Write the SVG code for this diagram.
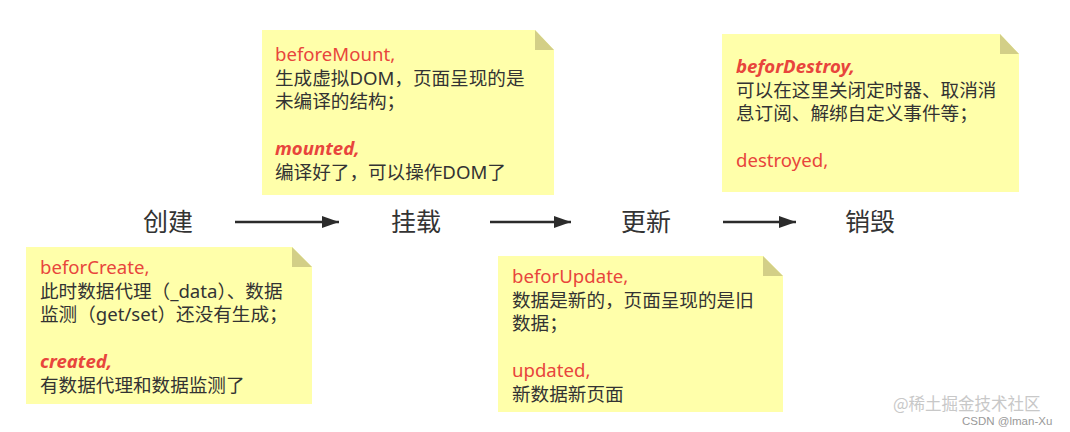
<svg xmlns="http://www.w3.org/2000/svg" width="1070" height="432" viewBox="0 0 1070 432">
<defs>
<marker id="ah" markerWidth="17" markerHeight="12" refX="17" refY="6" orient="auto" markerUnits="userSpaceOnUse">
<path d="M0,0 L17,6 L0,12 Z" fill="#2b2b2b"/>
</marker>
</defs>
<style>
.note{fill:#ffffaa}
.fold{fill:#d3cf87}
.t{font-family:"Noto Sans","Noto Sans CJK SC",sans-serif;font-size:18.6px;fill:#333}
.r{fill:#e8453c}
.bi{font-weight:bold;font-style:italic}
.stage{font-family:"Noto Sans CJK SC",sans-serif;font-size:25px;fill:#333}
.conn{stroke:#2b2b2b;stroke-width:2.4;fill:none}
.wm{font-family:"Noto Sans CJK SC",sans-serif;font-size:16.5px;fill:#c8c8c8}
.wm2{font-family:"Liberation Sans",sans-serif;font-size:11.5px;fill:#999}
</style>
<rect width="1070" height="432" fill="#ffffff"/>
<g id="connectors">
<line class="conn" x1="235" y1="222" x2="339" y2="222" marker-end="url(#ah)"/>
<line class="conn" x1="490" y1="222" x2="571" y2="222" marker-end="url(#ah)"/>
<line class="conn" x1="723" y1="222" x2="796" y2="222" marker-end="url(#ah)"/>
</g>
<g id="stage-create"><text class="stage" x="143" y="231">创建</text></g>
<g id="stage-mount"><text class="stage" x="391" y="231">挂载</text></g>
<g id="stage-update"><text class="stage" x="621" y="231">更新</text></g>
<g id="stage-destroy"><text class="stage" x="845" y="231">销毁</text></g>
<g id="note-create">
<path class="note" d="M26,247 H292 L312,267 V404 H26 Z"/>
<path class="fold" d="M292,247 L312,267 H292 Z"/>
<text class="t" x="40" y="274"><tspan class="r">beforCreate,</tspan><tspan x="40" dy="23.5">此时数据代理（_data）、数据</tspan><tspan x="40" dy="23.5">监测（get/set）还没有生成；</tspan><tspan x="40" dy="47" class="r bi">created,</tspan><tspan x="40" dy="23.5">有数据代理和数据监测了</tspan></text>
</g>
<g id="note-mount">
<path class="note" d="M262,30 H535 L554,50 V195 H262 Z"/>
<path class="fold" d="M535,30 L554,50 H535 Z"/>
<text class="t" x="275" y="61"><tspan class="r">beforeMount,</tspan><tspan x="275" dy="23.5">生成虚拟DOM，页面呈现的是</tspan><tspan x="275" dy="23.5">未编译的结构；</tspan><tspan x="275" dy="47" class="r bi">mounted,</tspan><tspan x="275" dy="23.5">编译好了，可以操作DOM了</tspan></text>
</g>
<g id="note-update">
<path class="note" d="M498,256 H763 L783,276 V412 H498 Z"/>
<path class="fold" d="M763,256 L783,276 H763 Z"/>
<text class="t" x="512" y="283"><tspan class="r">beforUpdate,</tspan><tspan x="512" dy="23.5">数据是新的，页面呈现的是旧</tspan><tspan x="512" dy="23.5">数据；</tspan><tspan x="512" dy="47" class="r">updated,</tspan><tspan x="512" dy="23.5">新数据新页面</tspan></text>
</g>
<g id="note-destroy">
<path class="note" d="M722,34 H1000 L1019,54 V192 H722 Z"/>
<path class="fold" d="M1000,34 L1019,54 H1000 Z"/>
<text class="t" x="736" y="73"><tspan class="r bi">beforDestroy,</tspan><tspan x="736" dy="23.5">可以在这里关闭定时器、取消消</tspan><tspan x="736" dy="23.5">息订阅、解绑自定义事件等；</tspan><tspan x="736" dy="47" class="r">destroyed,</tspan></text>
</g>
<text class="wm" x="893" y="410">@稀土掘金技术社区</text>
<text class="wm2" x="962" y="425">CSDN @lman-Xu</text>
</svg>
